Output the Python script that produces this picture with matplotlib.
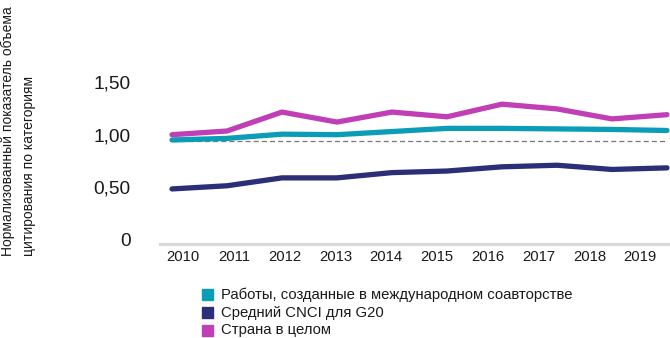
import matplotlib
matplotlib.use("Agg")
import matplotlib.pyplot as plt
from matplotlib.patches import Rectangle
import numpy as np

years = ["2010", "2011", "2012", "2013", "2014", "2015", "2016", "2017", "2018", "2019"]
intl_collab = [0.95, 0.965, 1.005, 1.00, 1.03, 1.06, 1.06, 1.055, 1.05, 1.04]
g20_cnci = [0.485, 0.515, 0.59, 0.59, 0.64, 0.655, 0.695, 0.71, 0.67, 0.685]
country = [1.00, 1.035, 1.215, 1.12, 1.215, 1.17, 1.29, 1.245, 1.15, 1.19]
reference_level = 0.94
ytick_vals = [0, 0.5, 1.0, 1.5]
ytick_labels = ["0", "0,50", "1,00", "1,50"]
legend_labels = ["Работы, созданные в международном соавторстве",
                 "Средний CNCI для G20",
                 "Страна в целом"]

c_teal = "#0b9db8"
c_navy = "#2d2e78"
c_pink = "#c03fb6"
colors = [c_teal, c_navy, c_pink]

plt.rcParams['font.family'] = ['Liberation Sans', 'DejaVu Sans']

W, H = 670, 338
fig = plt.figure(figsize=(W / 100, H / 100), dpi=100)
ax_left = 160 / W
ax_bottom = (H - 243.5) / H
ax_top = (H - 60) / H
ax = fig.add_axes([ax_left, ax_bottom, 1 - ax_left, ax_top - ax_bottom])

x = np.arange(len(years))
for series, col in [(g20_cnci, c_navy), (intl_collab, c_teal), (country, c_pink)]:
    ax.plot(x, series, color=col, lw=3.8, solid_capstyle='round', solid_joinstyle='round', zorder=3)

ax.plot([x[0], x[-1]], [reference_level, reference_level], color="#777777", lw=0.9,
        dashes=(4, 2.5), zorder=2)

ax.set_xlim(-12 / 55, (670 - 172) / 55)
ax.set_ylim(-3.5 / 105.3, 180 / 105.3)

ax.set_yticks(ytick_vals)
ax.set_yticklabels(ytick_labels)
tick_pos = x * (50.8 / 55) + 11 / 55
ax.set_xticks(tick_pos)
ax.set_xticklabels(years)
ax.tick_params(axis='y', length=0, pad=21, labelsize=13.8, labelcolor="#1a1a1a")
ax.tick_params(axis='x', length=0, pad=5, labelsize=10.7, labelcolor="#1a1a1a")

for s in ["left", "right", "top"]:
    ax.spines[s].set_visible(False)
ax.spines["bottom"].set_color("#d9d9d9")
ax.spines["bottom"].set_linewidth(2.3)

fig.text(1 / W, (H - 256) / H,
         "Нормализованный показатель объема\nцитирования по категориям",
         rotation=90, ha='left', va='bottom', multialignment='left',
         fontsize=10, linespacing=1.6, color="#1a1a1a")

rows_y = [294.5, 312.5, 330]
for lab, col, yy in zip(legend_labels, colors, rows_y):
    fig.patches.append(Rectangle((202 / W, (H - yy - 5.5) / H), 11 / W, 11 / H,
                                 transform=fig.transFigure, color=col, figure=fig))
    fig.text(221 / W, (H - yy) / H, lab, ha='left', va='center', fontsize=10.7, color="#1a1a1a")

fig.savefig("out.png", dpi=100)
